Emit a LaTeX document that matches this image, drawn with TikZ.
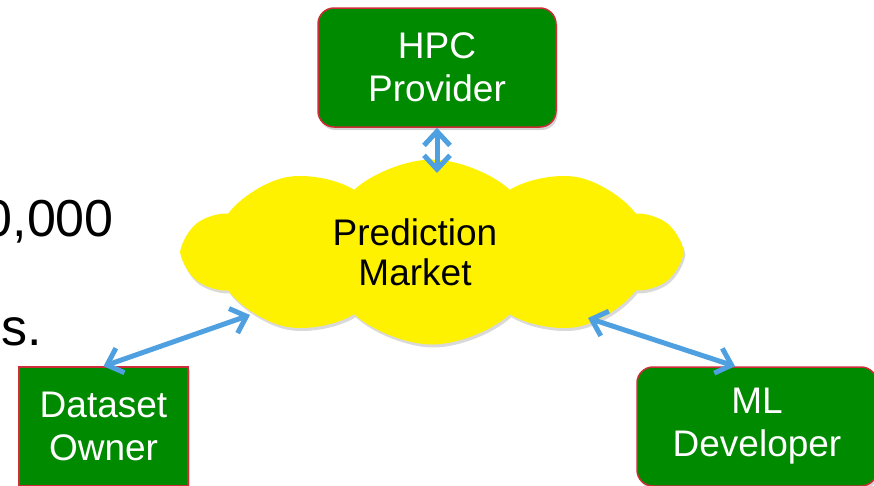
\documentclass[tikz,border=0pt]{standalone}
\usepackage{fontspec}
\setmainfont{Liberation Sans}
\usetikzlibrary{arrows.meta,shapes.symbols,shadows,calc}

\definecolor{boxgreen}{RGB}{0,138,0}
\definecolor{boxred}{RGB}{205,45,55}
\definecolor{linkblue}{RGB}{78,160,225}

\begin{document}
\begin{tikzpicture}[x=1pt, y=-1pt,
  actor/.style={draw=boxred, line width=1.5pt, fill=boxgreen, text=white, align=center,
    minimum width=238pt, minimum height=119pt, rounded corners=16pt,
    font=\fontsize{37}{43}\selectfont,
    drop shadow={opacity=0.35, shadow xshift=1.5pt, shadow yshift=-3pt}},
  market/.style={cloud, cloud puffs=10, cloud puff arc=85, cloud ignores aspect,
    fill=yellow, minimum width=495pt, minimum height=185pt,
    drop shadow={opacity=0.3, shadow xshift=1.5pt, shadow yshift=-3pt}},
  caption/.style={align=center, font=\fontsize{37}{40}\selectfont},
  slide/.style={inner sep=0pt, font=\fontsize{52}{60}\selectfont},
  link/.style={{Straight Barb[length=14pt,width=26pt]}-{Straight Barb[length=14pt,width=26pt]},
    draw=linkblue, line width=5pt}]

\useasboundingbox (0,0) rectangle (874,485);
\clip (0,0) rectangle (874,485);

% slide text behind the diagram
\node[slide, anchor=base east] (amount) at (114,236) {0,000};
\node[slide, anchor=base west] (tail) at (1,345) {s.};

\node[market] (market) at (432,252) {};
\node[caption] (marketlabel) at ($(market.center)+(-17,0)$) {Prediction\\Market};
\node[actor] (hpc) at (437,67.5) {HPC\\Provider};
\node[actor, sharp corners, minimum width=169pt] (owner) at (103.5,426.5) {Dataset\\Owner};
\node[actor, minimum width=240pt] (developer) at (757,426.5) {ML\\Developer};

\draw[link] (hpc) -- ($(market.center)+(5,-79)$);
\draw[link] (owner.north) -- ($(market.center)+(-182,63)$);
\draw[link] (developer.110) -- ($(market.center)+(156,66)$);

\end{tikzpicture}
\end{document}
